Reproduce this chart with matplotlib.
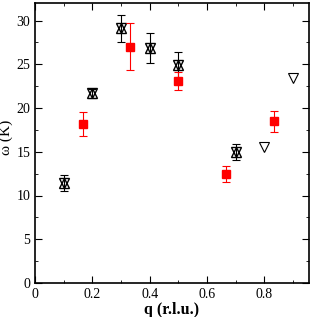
import numpy as np
import matplotlib.pyplot as plt
from matplotlib.ticker import MultipleLocator

plt.rcParams['font.family'] = ['Liberation Serif', 'DejaVu Serif']

# black: up+down triangles with error bars
q_tri = [0.1, 0.2, 0.3, 0.4, 0.5, 0.7]
w_tri = [11.4, 21.7, 29.1, 26.9, 24.9, 15.0]
e_tri = [0.9, 0.5, 1.5, 1.7, 1.5, 0.9]

# down triangles only
q_dn = [0.8, 0.9]
w_dn = [15.5, 23.4]

# red squares
q_sq = [0.167, 0.333, 0.5, 0.667, 0.833]
w_sq = [18.2, 27.0, 23.1, 12.5, 18.5]
e_sq = [1.4, 2.7, 1.0, 0.9, 1.2]

fig = plt.figure(figsize=(3.11, 3.17), dpi=100)
ax = fig.add_axes([35/311, 1 - 283/317, 274/311, 280/317])

ax.errorbar(q_tri, w_tri, yerr=e_tri, fmt='none', ecolor='black', elinewidth=0.8, capsize=3, capthick=0.8)
ax.plot(q_tri, w_tri, '^', ms=7.5, mfc='none', mec='black', mew=1)
ax.plot(q_tri, w_tri, 'v', ms=7.5, mfc='none', mec='black', mew=1)
ax.plot(q_dn, w_dn, 'v', ms=7.5, mfc='none', mec='black', mew=0.8)

ax.errorbar(q_sq, w_sq, yerr=e_sq, fmt='s', ms=6, color='red', ecolor='red', elinewidth=0.8, capsize=3, capthick=0.8)

ax.set_xlim(0, 0.956)
ax.set_ylim(0, 32)
ax.xaxis.set_minor_locator(MultipleLocator(0.1))
ax.yaxis.set_major_locator(MultipleLocator(5))
ax.yaxis.set_minor_locator(MultipleLocator(2.5))
ax.set_xticks([0, 0.2, 0.4, 0.6, 0.8])
ax.set_xticklabels(['0', '0.2', '0.4', '0.6', '0.8'])
ax.tick_params(which='both', direction='in', top=True, right=True, labelsize=10)
ax.tick_params(which='major', length=5)
ax.tick_params(which='minor', length=2.5)
for s in ax.spines.values():
    s.set_linewidth(1.2)

ax.set_xlabel('q (r.l.u.)', fontsize=11.5, fontweight='bold', labelpad=1)
ax.set_ylabel('ω (K)', fontsize=11)
ax.yaxis.set_label_coords(-0.08, 0.52)

fig.savefig('out.png', dpi=100)
